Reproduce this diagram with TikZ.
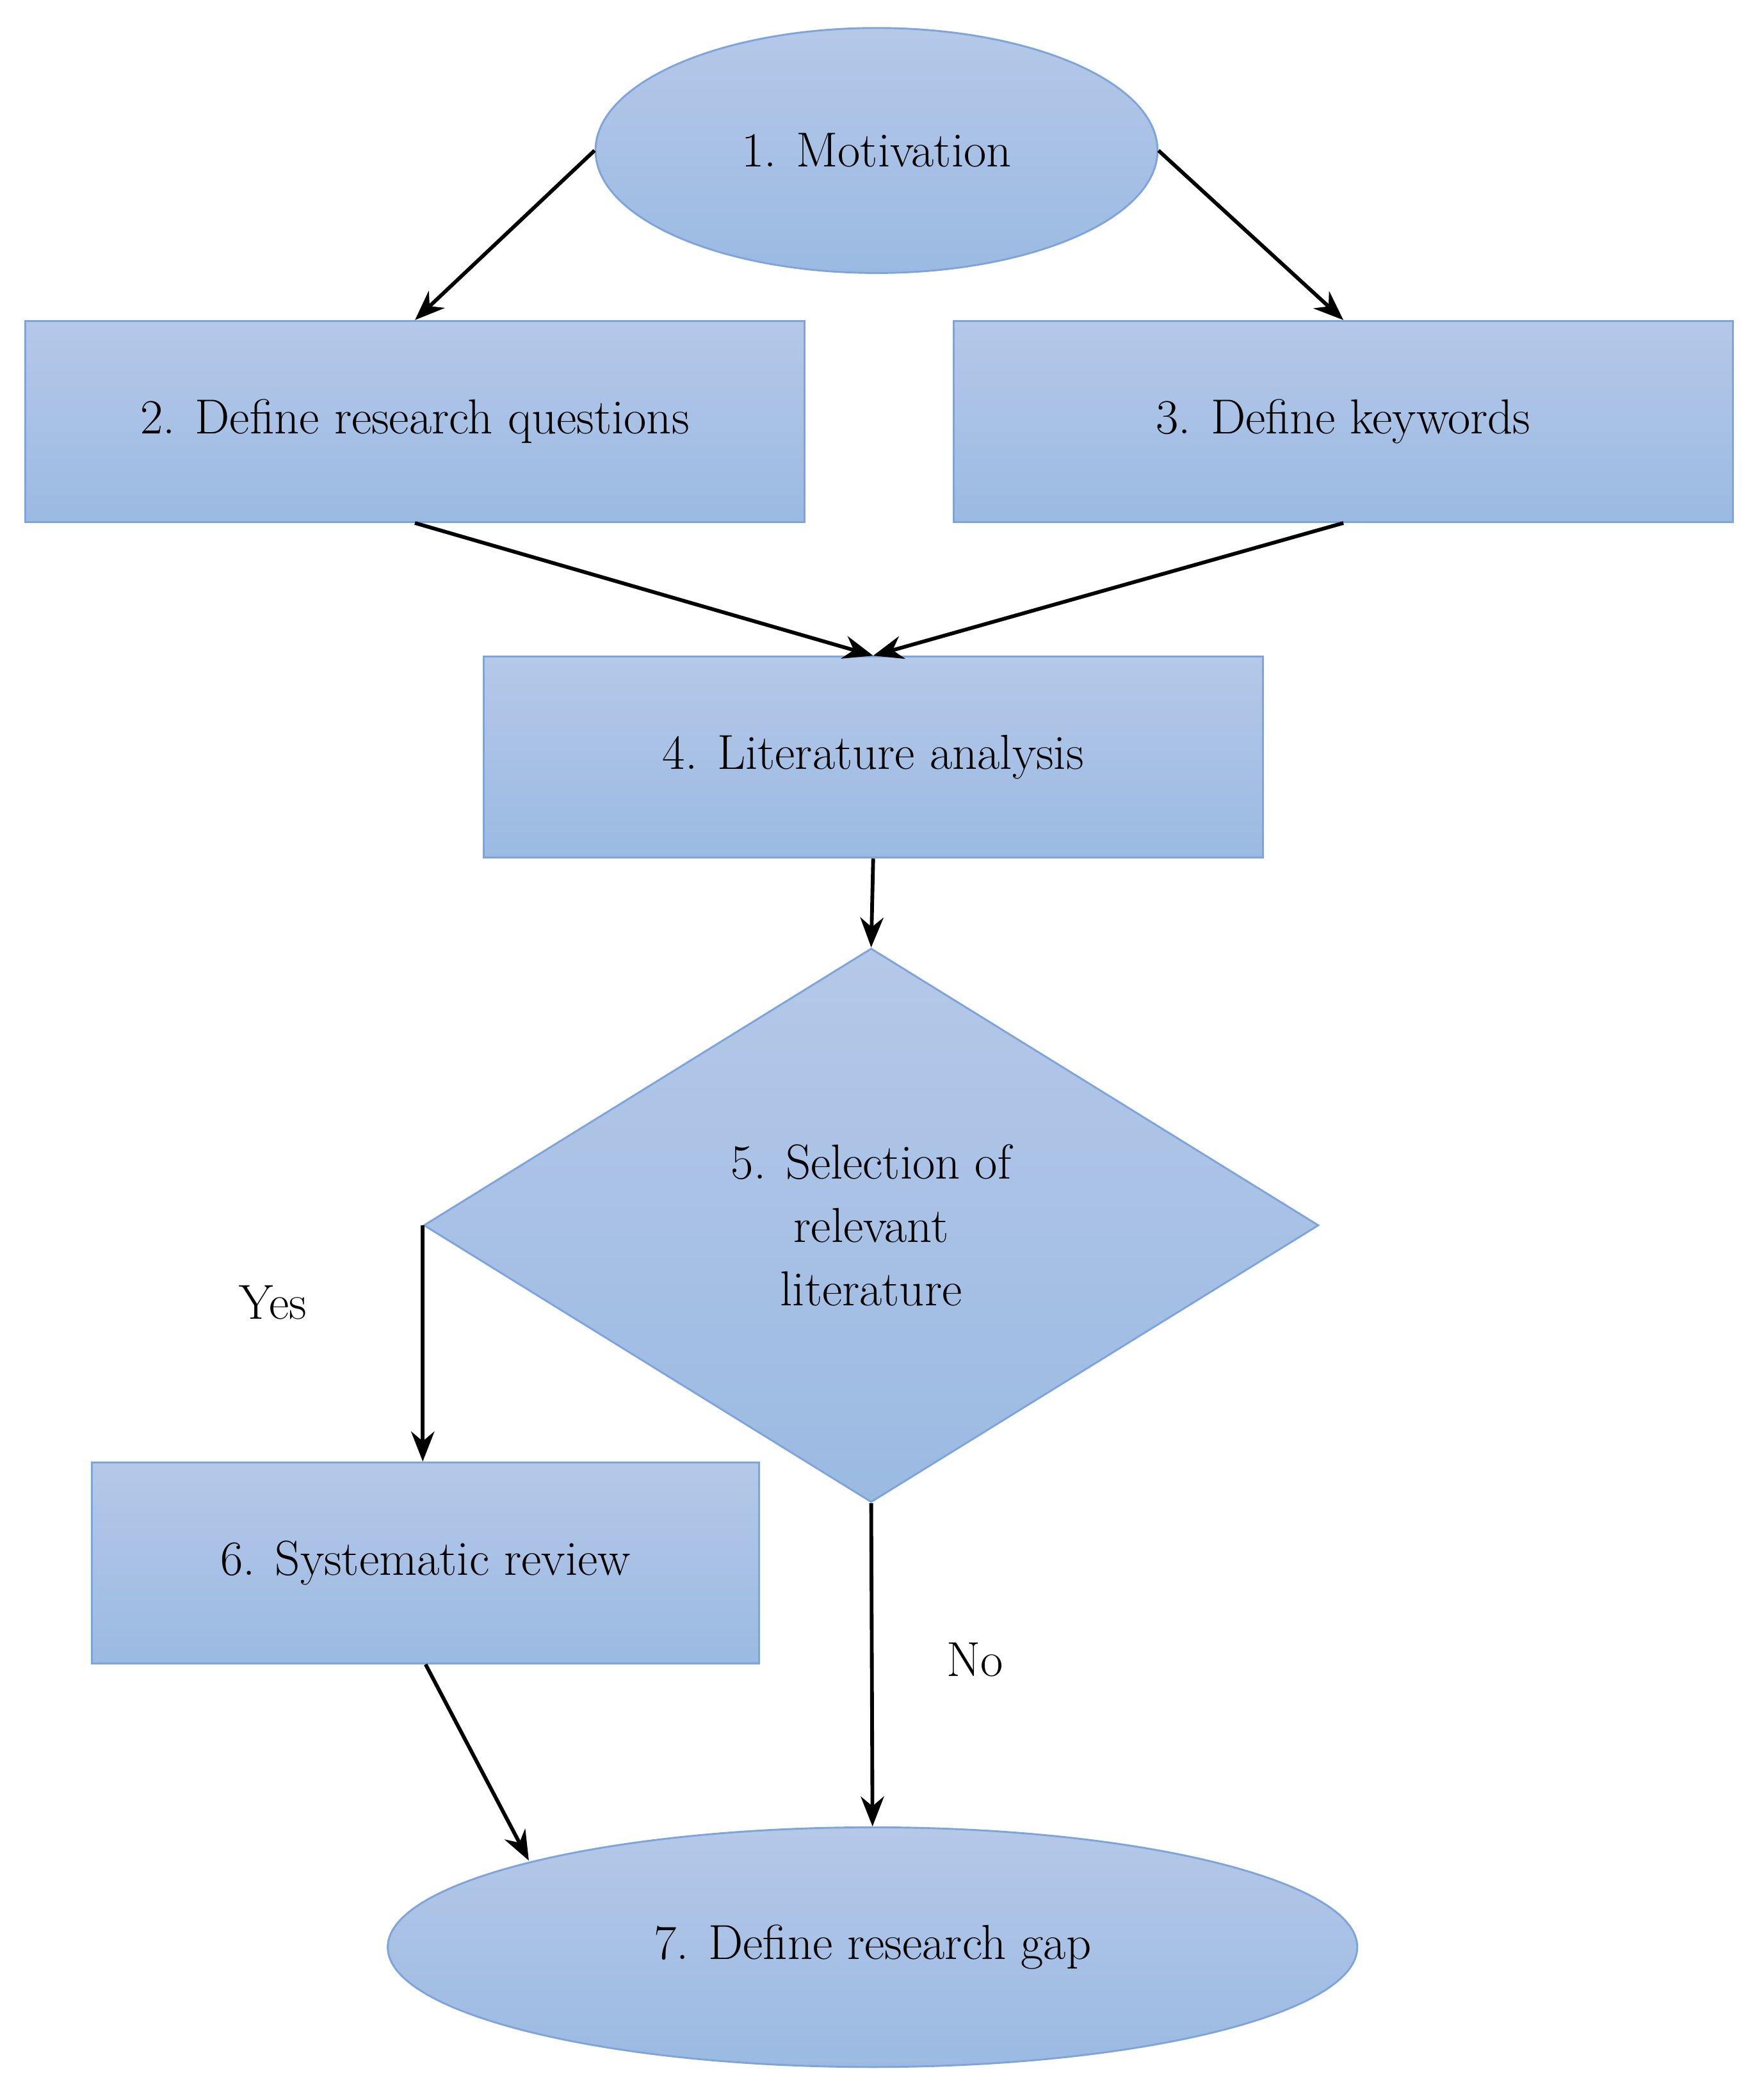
\documentclass[tikz,border=0pt]{standalone}
\usetikzlibrary{shapes.geometric,arrows.meta}
\definecolor{topc}{HTML}{B5C8E8}
\definecolor{botc}{HTML}{9BBAE2}
\definecolor{edgec}{HTML}{7EA4DA}
\begin{document}
\begin{tikzpicture}[x=0.02cm,y=-0.02cm,
  box/.style={draw=edgec,line width=0.8pt,top color=topc,bottom color=botc,inner sep=0pt,font=\fontsize{21}{27}\selectfont,align=center},
  rect/.style={box,rectangle,minimum width=11.7cm,minimum height=3.02cm},
  ell/.style={box,ellipse},
  arr/.style={-{Stealth[length=0.45cm,width=0.35cm]},line width=1.6pt},
  lab/.style={font=\fontsize{21}{27}\selectfont}]
\useasboundingbox (0,0) rectangle (1324,1567);
\node[ell,minimum width=8.44cm,minimum height=3.68cm] (e1) at (658,113) {1. Motivation};
\node[rect] (r2) at (311.5,316.5) {2. Define research questions};
\node[rect] (r3) at (1008.5,316.5) {3. Define keywords};
\node[rect] (r4) at (655.5,568.5) {4. Literature analysis};
\node[box,diamond,minimum width=13.44cm,minimum height=8.32cm] (d5) at (654,920) {5. Selection of\\relevant\\literature};
\node[rect,minimum width=10.02cm] (r6) at (319.5,1173.5) {6. Systematic review};
\node[ell,minimum width=14.56cm,minimum height=3.6cm] (e7) at (655,1462) {7. Define research gap};
\node[lab] (yes) at (205,978) {Yes};
\node[lab] (no) at (732,1246) {No};
\coordinate (g) at (397,1397);
\draw[arr] (e1.west) -- (r2.north);
\draw[arr] (e1.east) -- (r3.north);
\draw[arr] (r2.south) -- (r4.north);
\draw[arr] (r3.south) -- (r4.north);
\draw[arr] (r4.south) -- (d5.north);
\draw[arr] (d5.west) -- (d5.west |- r6.north);
\draw[arr] (d5.south) -- (e7.north);
\draw[arr] (r6.south) -- (g);
\end{tikzpicture}
\end{document}
